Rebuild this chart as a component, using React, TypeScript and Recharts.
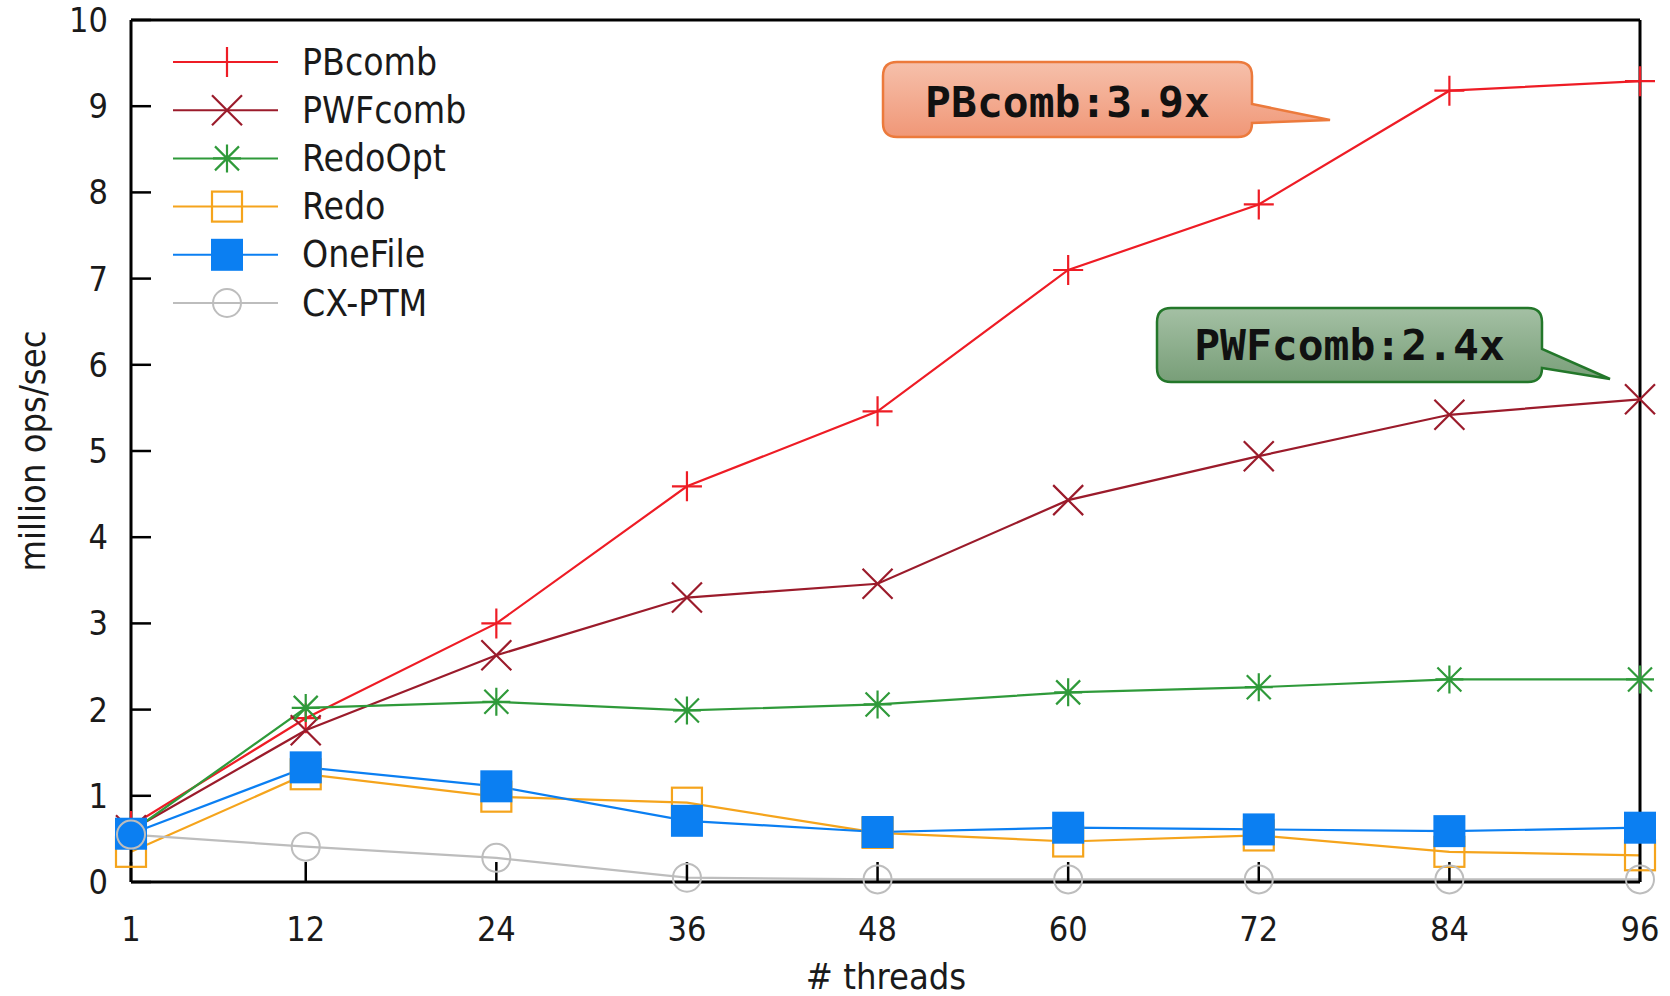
import { LineChart, Line, XAxis, YAxis, Legend } from "recharts";

const FONT = "'DejaVu Sans Condensed', 'DejaVu Sans', sans-serif";
const MONO = "'DejaVu Sans Mono', 'Liberation Mono', monospace";

// x values (# threads)
const threads = [1, 12, 24, 36, 48, 60, 72, 84, 96];
const yTicks = [0, 1, 2, 3, 4, 5, 6, 7, 8, 9, 10];

// million ops/sec
const pbcomb = [0.65, 1.9, 3.0, 4.59, 5.46, 7.1, 7.86, 9.18, 9.29];
const pwfcomb = [0.6, 1.76, 2.63, 3.3, 3.46, 4.43, 4.94, 5.42, 5.6];
const redoOpt = [0.58, 2.02, 2.09, 1.99, 2.06, 2.2, 2.26, 2.35, 2.35];
const redo = [0.35, 1.25, 0.99, 0.92, 0.57, 0.47, 0.54, 0.35, 0.31];
const oneFile = [0.56, 1.33, 1.11, 0.71, 0.58, 0.63, 0.61, 0.59, 0.63];
const cxPtm = [0.55, 0.41, 0.28, 0.05, 0.03, 0.03, 0.03, 0.03, 0.03];

type Shape = "plus" | "cross" | "star" | "square" | "filledSquare" | "circle";

const series: { key: string; values: number[]; color: string; shape: Shape }[] = [
  { key: "PBcomb", values: pbcomb, color: "#ee1c25", shape: "plus" },
  { key: "PWFcomb", values: pwfcomb, color: "#9b1b2b", shape: "cross" },
  { key: "RedoOpt", values: redoOpt, color: "#2f9a3a", shape: "star" },
  { key: "Redo", values: redo, color: "#f5a41c", shape: "square" },
  { key: "OneFile", values: oneFile, color: "#0b7ff2", shape: "filledSquare" },
  { key: "CX-PTM", values: cxPtm, color: "#bdbdbd", shape: "circle" },
];

const data = threads.map((t, i) => {
  const row: Record<string, number> = { threads: t };
  series.forEach((s) => (row[s.key] = s.values[i]));
  return row;
});

function Marker({ cx, cy, shape, color }: { cx?: number; cy?: number; shape: Shape; color: string }) {
  if (cx == null || cy == null) return null;
  const sw = 2.2;
  switch (shape) {
    case "plus":
      return <path d={`M${cx - 15},${cy}H${cx + 15}M${cx},${cy - 15}V${cy + 15}`} stroke={color} strokeWidth={sw} fill="none" />;
    case "cross":
      return (
        <path
          d={`M${cx - 15},${cy - 15}L${cx + 15},${cy + 15}M${cx - 15},${cy + 15}L${cx + 15},${cy - 15}`}
          stroke={color}
          strokeWidth={sw}
          fill="none"
        />
      );
    case "star":
      return (
        <path
          d={`M${cx - 14},${cy}H${cx + 14}M${cx},${cy - 14}V${cy + 14}M${cx - 12},${cy - 12}L${cx + 12},${cy + 12}M${cx - 12},${cy + 12}L${cx + 12},${cy - 12}`}
          stroke={color}
          strokeWidth={sw}
          fill="none"
        />
      );
    case "square":
      return <rect x={cx - 15} y={cy - 15} width={30} height={30} stroke={color} strokeWidth={sw} fill="none" />;
    case "filledSquare":
      return <rect x={cx - 16} y={cy - 16} width={32} height={32} fill={color} />;
    default:
      return <circle cx={cx} cy={cy} r={14} stroke={color} strokeWidth={2} fill="none" />;
  }
}

// legend keeps the series order (gnuplot style key)
const renderLegend = () => (
  <svg width={320} height={300}>
    {series.map((s, i) => {
      const y = 32 + i * 48.2;
      return (
        <g key={s.key}>
          <line x1={13} x2={118} y1={y} y2={y} stroke={s.color} strokeWidth={2} />
          <Marker cx={67} cy={y} shape={s.shape} color={s.color} />
          <text x={142} y={y} dominantBaseline="central" fontSize={37} fontFamily={FONT} fill="#1a1a1a">
            {s.key}
          </text>
        </g>
      );
    })}
  </svg>
);

function Callout({
  l, t, r, b, tipX, tipY, baseTop, baseBottom, text, textY, from, to, border, id,
}: {
  l: number; t: number; r: number; b: number; tipX: number; tipY: number;
  baseTop: number; baseBottom: number; text: string; textY: number;
  from: string; to: string; border: string; id: string;
}) {
  const rad = 14;
  const d = [
    `M${l + rad},${t}`,
    `H${r - rad}`,
    `Q${r},${t} ${r},${t + rad}`,
    `V${baseTop}`,
    `L${tipX},${tipY}`,
    `L${r},${Math.min(baseBottom, b - rad)}`,
    `V${b - rad}`,
    `Q${r},${b} ${r - rad},${b}`,
    `H${l + rad}`,
    `Q${l},${b} ${l},${b - rad}`,
    `V${t + rad}`,
    `Q${l},${t} ${l + rad},${t}`,
    "Z",
  ].join(" ");
  return (
    <g>
      <defs>
        <linearGradient id={id} x1="0" y1="0" x2="0" y2="1">
          <stop offset="0%" stopColor={from} />
          <stop offset="100%" stopColor={to} />
        </linearGradient>
      </defs>
      <path d={d} fill={`url(#${id})`} stroke={border} strokeWidth={2.5} />
      <text x={(l + r) / 2} y={textY} textAnchor="middle" fontFamily={MONO} fontWeight="bold" fontSize={43} fill="#111">
        {text}
      </text>
    </g>
  );
}

const axisLine = { stroke: "#000", strokeWidth: 3 };
const tickLine = { stroke: "#000", strokeWidth: 2.5 };
const tickText = { fontSize: 34, fill: "#1a1a1a", fontFamily: FONT };

export default function App() {
  return (
    <div style={{ position: "absolute", left: 0, top: 0, width: 1670, height: 996, background: "#fff" }}>
      <LineChart width={1670} height={996} data={data} margin={{ top: 0, right: 0, bottom: 0, left: 0 }}>
        <XAxis
          xAxisId="b"
          dataKey="threads"
          type="number"
          domain={[1, 96]}
          ticks={threads}
          interval={0}
          height={114}
          tickSize={-20}
          tickMargin={55}
          axisLine={axisLine}
          tickLine={tickLine}
          tick={tickText}
        />
        <XAxis
          xAxisId="t"
          orientation="top"
          type="number"
          domain={[1, 96]}
          allowDataOverflow
          ticks={threads}
          interval={0}
          height={20}
          tickSize={-20}
          axisLine={axisLine}
          tickLine={tickLine}
          tick={false}
        />
        <YAxis
          yAxisId="l"
          type="number"
          domain={[0, 10]}
          ticks={yTicks}
          interval={0}
          width={131}
          tickSize={-20}
          tickMargin={43}
          axisLine={axisLine}
          tickLine={tickLine}
          tick={tickText}
        />
        <YAxis
          yAxisId="r"
          orientation="right"
          type="number"
          domain={[0, 10]}
          allowDataOverflow
          ticks={yTicks}
          interval={0}
          width={30}
          tickSize={-20}
          axisLine={axisLine}
          tickLine={tickLine}
          tick={false}
        />
        <Legend
          layout="horizontal"
          verticalAlign="middle"
          align="center"
          content={renderLegend}
          wrapperStyle={{ left: 160, top: 30, width: 320, height: 300 }}
        />
        {series.map((s) => (
          <Line
            key={s.key}
            xAxisId="b"
            yAxisId="l"
            type="linear"
            dataKey={s.key}
            name={s.key}
            stroke={s.color}
            strokeWidth={2.2}
            isAnimationActive={false}
            activeDot={false}
            dot={(p: any) => <Marker key={`${s.key}-${p.index}`} cx={p.cx} cy={p.cy} shape={s.shape} color={s.color} />}
          />
        ))}
      </LineChart>
      <svg
        width={1670}
        height={996}
        style={{ position: "absolute", left: 0, top: 0, pointerEvents: "none" }}
      >
        <text
          transform="translate(32,451) rotate(-90)"
          textAnchor="middle"
          dominantBaseline="central"
          fontSize={36}
          fontFamily={FONT}
          fill="#1a1a1a"
        >
          million ops/sec
        </text>
        <text x={886} y={989} textAnchor="middle" fontSize={36} fontFamily={FONT} fill="#1a1a1a">
          # threads
        </text>
        <Callout
          id="gPB"
          l={883}
          t={62}
          r={1252}
          b={137}
          baseTop={104}
          baseBottom={128}
          tipX={1330}
          tipY={120}
          text="PBcomb:3.9x"
          textY={117}
          from="#f6c0ab"
          to="#f09777"
          border="#ec7a3c"
        />
        <Callout
          id="gPWF"
          l={1157}
          t={308}
          r={1542}
          b={382}
          baseTop={349}
          baseBottom={376}
          tipX={1610}
          tipY={379}
          text="PWFcomb:2.4x"
          textY={360}
          from="#a4c0a4"
          to="#789e78"
          border="#23772a"
        />
      </svg>
    </div>
  );
}
